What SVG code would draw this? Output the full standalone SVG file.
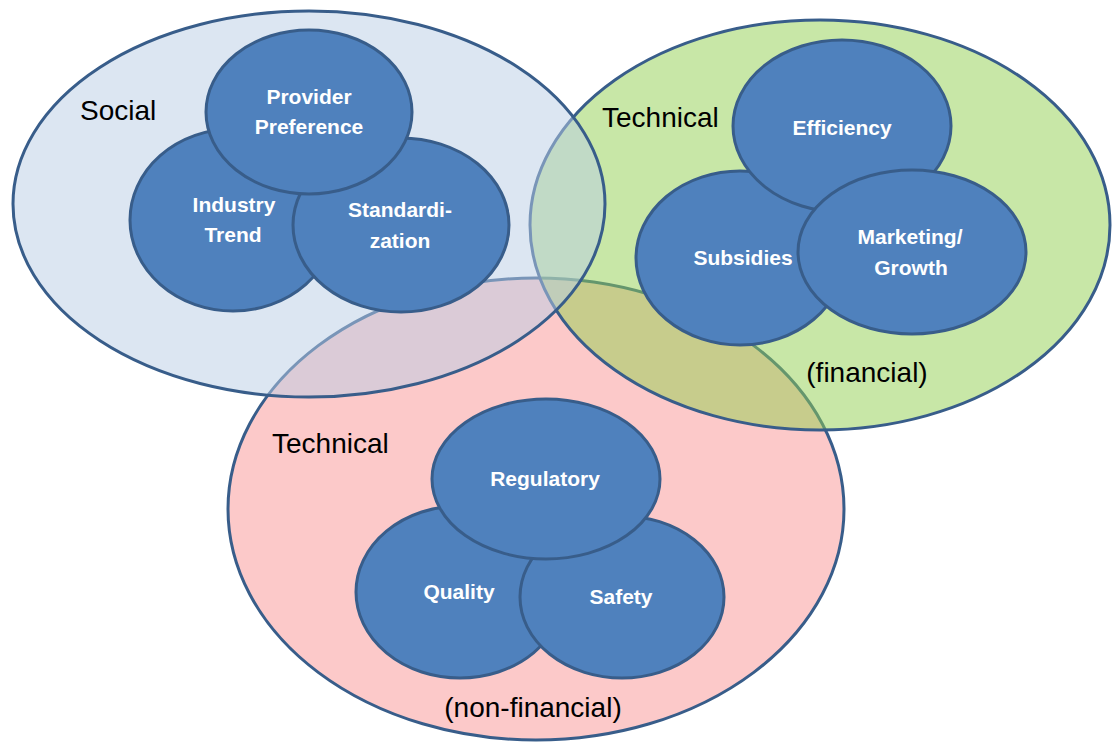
<svg xmlns="http://www.w3.org/2000/svg" width="1113" height="742" viewBox="0 0 1113 742">
<style>
.big{stroke:#385d8a;stroke-width:3;fill-opacity:0.5}
.sm{fill:#4f81bd;stroke:#385d8a;stroke-width:3}
.lbl{font-family:"Liberation Sans",Arial,sans-serif;font-size:28px;fill:#000}
.in{font-family:"Liberation Sans",Arial,sans-serif;font-size:21px;font-weight:bold;fill:#fff;text-anchor:middle}
</style>
<rect width="1113" height="742" fill="#fff"/>
<g id="technical-nonfinancial">
<ellipse class="big" cx="536" cy="509" rx="308" ry="231" fill="#f99494"/>
<text class="lbl" x="272" y="453">Technical</text>
<text class="lbl" x="533" y="717" text-anchor="middle">(non-financial)</text>
</g>
<g id="technical-financial">
<ellipse class="big" cx="820" cy="225" rx="290" ry="205" fill="#92d050"/>
<text class="lbl" x="602" y="127">Technical</text>
<text class="lbl" x="867" y="382" text-anchor="middle">(financial)</text>
</g>
<g id="social">
<ellipse class="big" cx="309" cy="204" rx="296" ry="193" fill="#b9cde5"/>
<text class="lbl" x="80" y="120">Social</text>
</g>
<g id="industry-trend">
<ellipse class="sm" cx="233" cy="220" rx="103" ry="91"/>
<text class="in" x="234" y="212">Industry</text>
<text class="in" x="233" y="242">Trend</text>
</g>
<g id="standardization">
<ellipse class="sm" cx="401" cy="225" rx="108" ry="87"/>
<text class="in" x="400" y="217">Standardi-</text>
<text class="in" x="400" y="248">zation</text>
</g>
<g id="provider-preference">
<ellipse class="sm" cx="309" cy="112" rx="103" ry="82"/>
<text class="in" x="309" y="104">Provider</text>
<text class="in" x="309" y="134">Preference</text>
</g>
<g id="subsidies">
<ellipse class="sm" cx="740" cy="258" rx="104" ry="87"/>
<text class="in" x="743" y="265">Subsidies</text>
</g>
<g id="efficiency">
<ellipse class="sm" cx="842" cy="126" rx="109" ry="86"/>
<text class="in" x="842" y="135">Efficiency</text>
</g>
<g id="marketing-growth">
<ellipse class="sm" cx="912" cy="252" rx="114" ry="82"/>
<text class="in" x="910" y="244">Marketing/</text>
<text class="in" x="911" y="275">Growth</text>
</g>
<g id="quality">
<ellipse class="sm" cx="460" cy="592" rx="104" ry="86"/>
<text class="in" x="459" y="599">Quality</text>
</g>
<g id="safety">
<ellipse class="sm" cx="622" cy="597" rx="102" ry="81"/>
<text class="in" x="621" y="604">Safety</text>
</g>
<g id="regulatory">
<ellipse class="sm" cx="546" cy="479" rx="114" ry="80"/>
<text class="in" x="545" y="486">Regulatory</text>
</g>
<g id="connectors"/>
</svg>
